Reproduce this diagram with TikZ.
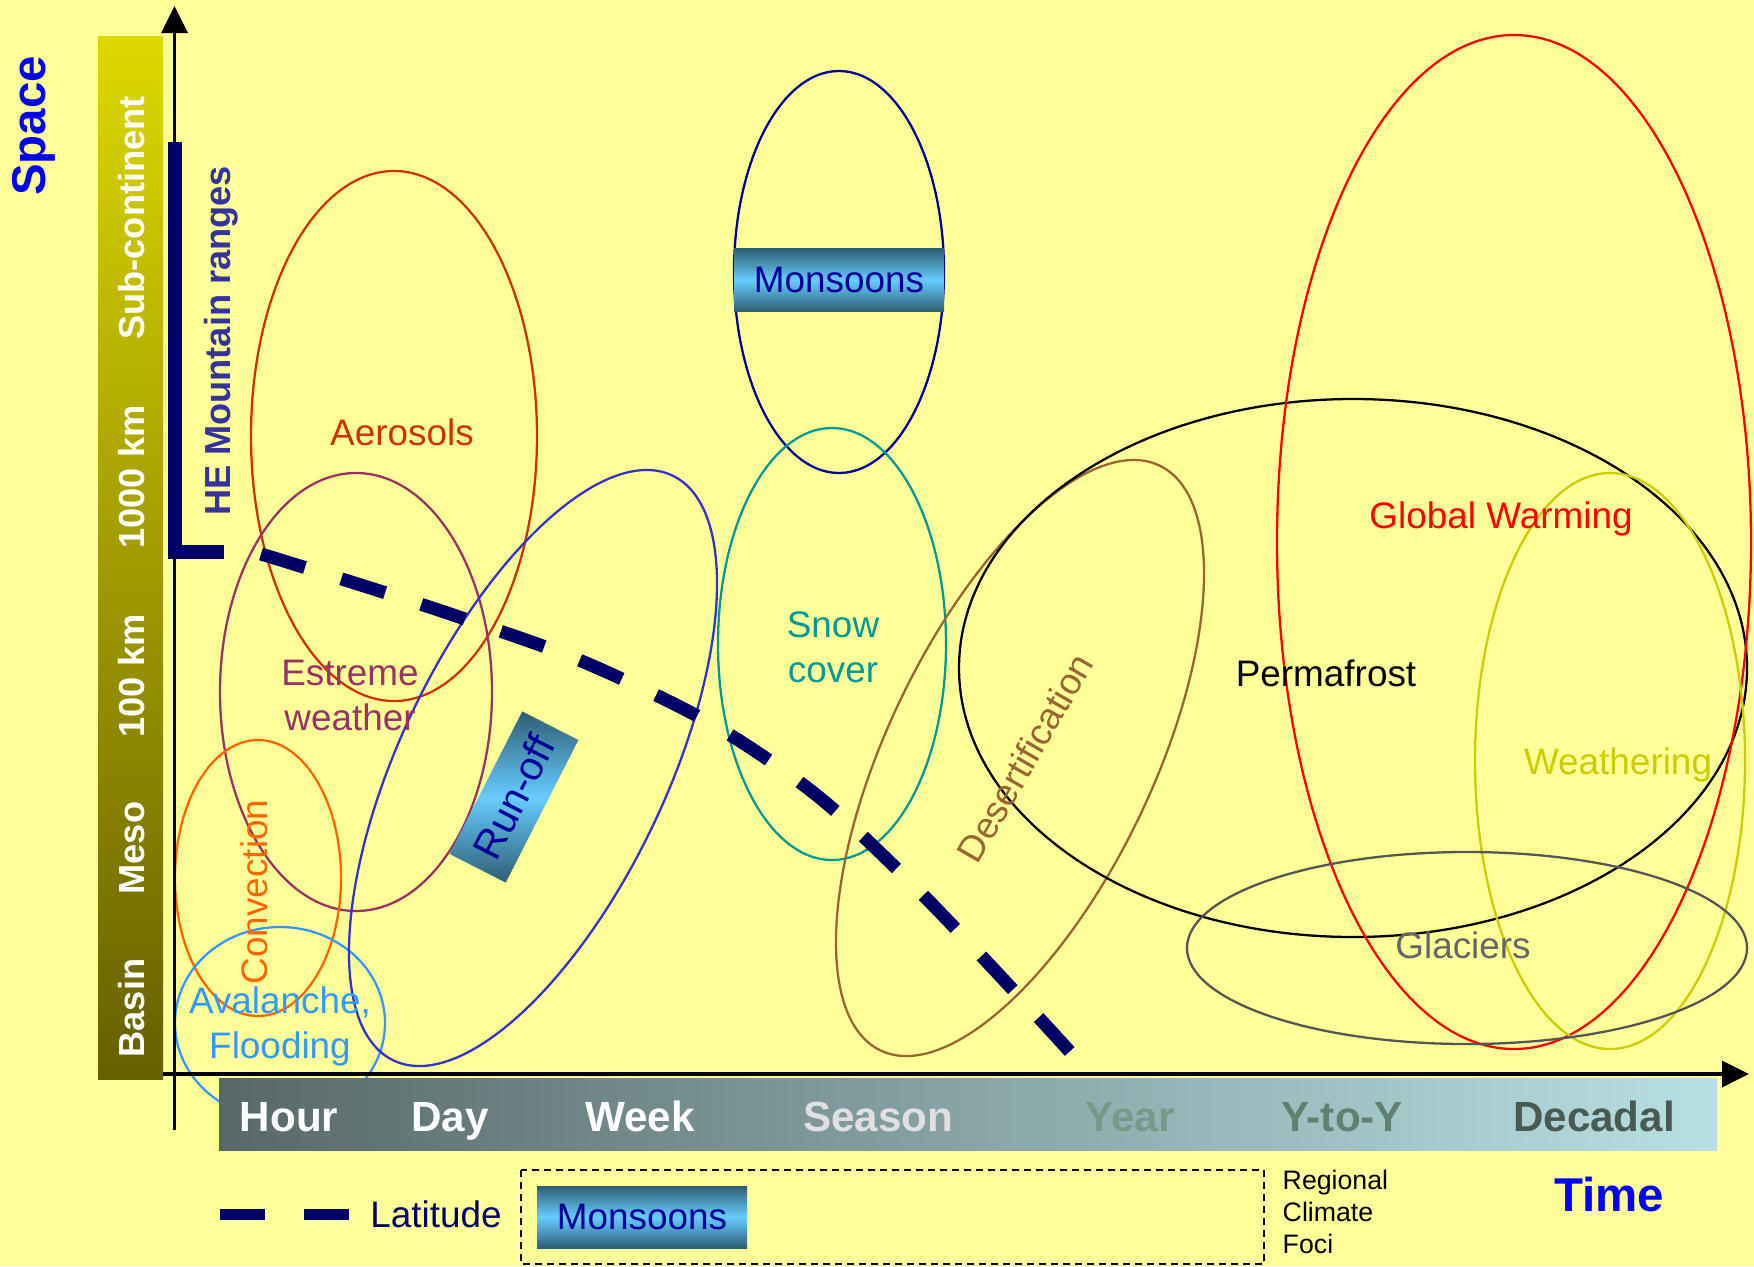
\documentclass[tikz,border=0pt]{standalone}
\usepackage{fontspec}
\setmainfont{Liberation Sans}
\usepackage{xcolor}
\usepackage{tikz}
\usetikzlibrary{arrows.meta}
\definecolor{paper}{HTML}{FFFF99}
\definecolor{navy}{HTML}{000066}
\definecolor{heblue}{HTML}{333399}
\definecolor{monblue}{HTML}{000099}
\definecolor{bandedge}{HTML}{2E5E73}
\definecolor{bandmid}{HTML}{66CCFF}
\definecolor{scaletop}{HTML}{DDD800}
\definecolor{scalebot}{HTML}{666000}
\definecolor{timeleft}{HTML}{586868}
\definecolor{timeright}{HTML}{B8E0E4}
\definecolor{snowc}{HTML}{009999}
\definecolor{aeroc}{HTML}{CC3300}
\definecolor{stormc}{HTML}{993366}
\definecolor{convc}{HTML}{FF6600}
\definecolor{floodc}{HTML}{3399FF}
\definecolor{runc}{HTML}{3333CC}
\definecolor{desc}{HTML}{996633}
\definecolor{weathc}{HTML}{CCCC00}
\definecolor{glacc}{HTML}{555555}
\definecolor{glact}{HTML}{666666}
\tikzset{
  zone/.style={line width=0.65pt},
  tag/.style={font=\fontsize{10.5}{12.8}\selectfont, align=center, inner sep=0pt},
  scaletag/.style={font=\fontsize{10.3}{12}\selectfont\bfseries, text=white,
    rotate=90, inner sep=0pt},
  timetag/.style={font=\fontsize{12}{14}\selectfont\bfseries, inner sep=0pt,
    anchor=base},
  band/.style={top color=bandedge, bottom color=bandedge, middle color=bandmid,
    inner sep=0pt, text=monblue, font=\fontsize{10.5}{12.8}\selectfont},
  axis/.style={-{Triangle[length=2.7mm, width=2.6mm]}, line width=1pt},
  latitude/.style={draw=navy, line width=1.3mm, dash pattern=on 4.6mm off 3.8mm}
}
\begin{document}
\begin{tikzpicture}[x=0.1mm, y=-0.1mm]
\fill[paper] (0,0) rectangle (1754,1266);
\useasboundingbox (0,0) rectangle (1754,1266);

\shade[top color=scaletop, bottom color=scalebot] (98,36) rectangle (163,1079);
\node[scaletag] (basin) at (132,1008) {Basin};
\node[scaletag] (meso) at (132,848) {Meso};
\node[scaletag] (km100) at (132,676) {100 km};
\node[scaletag] (km1000) at (132,477) {1000 km};
\node[scaletag] (subcont) at (132,218) {Sub-continent};

\draw[zone, monblue] (839,272) ellipse [x radius=105, y radius=201];
\draw[zone, snowc] (832,644) ellipse [x radius=114, y radius=216];
\draw[zone, aeroc] (394,436) ellipse [x radius=143, y radius=265];
\draw[zone, stormc] (356,692) ellipse [x radius=136, y radius=219];
\draw[zone, convc] (258,878) ellipse [x radius=83, y radius=138];
\draw[zone, floodc] (280,1023) ellipse [x radius=105, y radius=96];
\draw[zone, runc, rotate around={64.5:(533,768)}] (533,768) ellipse [x radius=324, y radius=133];
\draw[zone, desc, rotate around={64.5:(1020,758)}] (1020,758) ellipse [x radius=324, y radius=133];
\draw[zone, black] (1353,668) ellipse [x radius=394, y radius=269];
\draw[zone, red] (1514,542) ellipse [x radius=237, y radius=507];
\draw[zone, weathc] (1610,761) ellipse [x radius=135, y radius=288];
\draw[zone, glacc] (1467,948) ellipse [x radius=280, y radius=96];

\shade[left color=timeleft, right color=timeright] (219,1078) rectangle (1717,1150);
\node[timetag, text=white] (hour) at (289,1131) {Hour};
\node[timetag, text=white] (day) at (450,1131) {Day};
\node[timetag, text=white] (week) at (640,1131) {Week};
\node[timetag, text=black!12] (season) at (878,1131) {Season};
\node[timetag, text={rgb,255:red,122;green,152;blue,136}] (year) at (1130,1131) {Year};
\node[timetag, text={rgb,255:red,96;green,128;blue,112}] (ytoy) at (1342,1131) {Y-to-Y};
\node[timetag, text={rgb,255:red,72;green,90;blue,82}] (decadal) at (1594,1131) {Decadal};

\coordinate (ybot) at (174.5,1130);
\coordinate (ytip) at (174.5,6);
\coordinate (xbot) at (163,1074);
\coordinate (xtip) at (1749,1074);
\draw[axis] (ybot) -- (ytip);
\draw[axis] (xbot) -- (xtip);
\draw[navy, line width=1.4mm] (175,142) |- (224,552);
\node[font=\fontsize{10.3}{12}\selectfont\bfseries, text=heblue, rotate=90,
  inner sep=0pt] (herange) at (221,341) {HE Mountain ranges};
\node[font=\fontsize{13.5}{16}\selectfont\bfseries, text=blue, rotate=90,
  inner sep=0pt] (space) at (34,126) {Space};

\node[band, minimum width=21mm, minimum height=6.3mm] (monsoon) at (839,280) {Monsoons};
\node[band, rotate=63, minimum width=16mm, minimum height=6.3mm,
  font=\fontsize{11.5}{13}\selectfont] (runoff) at (514,797) {Run-off};

\draw[latitude] plot[smooth, tension=0.7] coordinates {(261,554) (465,619) (622,679)
  (770,761) (898,870) (1072,1054)};

\node[tag, text=snowc] (snow) at (833,647) {Snow\\cover};
\node[tag, text=aeroc] (aero) at (402,432) {Aerosols};
\node[tag, text=stormc] (storm) at (350,695) {Estreme\\weather};
\node[tag, text=convc, rotate=90] (conv) at (254,892) {Convection};
\node[tag, text=floodc] (flood) at (280,1026) {Avalanche,\\Flooding};
\node[tag, text=desc, rotate=60] (desert) at (1025,758) {Desertification};
\node[tag] (perma) at (1326,673) {Permafrost};
\node[tag, text=red] (warm) at (1501,519) {Global Warming};
\node[tag, text=weathc] (weath) at (1618,765) {Weathering};
\node[tag, text=glact] (glac) at (1463,945) {Glaciers};

\draw[latitude, line width=1.1mm, dash pattern=on 4.5mm off 3.9mm] (220,1214) -- (349,1214);
\node[tag, text=navy] (lat) at (436,1214) {Latitude};
\draw[line width=0.6pt, dash pattern=on 0.7mm off 0.5mm] (521,1170) rectangle (1264,1264);
\node[band, minimum width=21mm, minimum height=6.2mm] (keyband) at (642,1217) {Monsoons};
\node[font=\fontsize{7.6}{9.2}\selectfont, align=left, anchor=west, inner sep=0pt]
  (foci) at (1282,1212) {Regional\\Climate\\Foci};
\node[font=\fontsize{13.5}{16}\selectfont\bfseries, text=blue, inner sep=0pt]
  (time) at (1609,1195) {Time};
\end{tikzpicture}
\end{document}
